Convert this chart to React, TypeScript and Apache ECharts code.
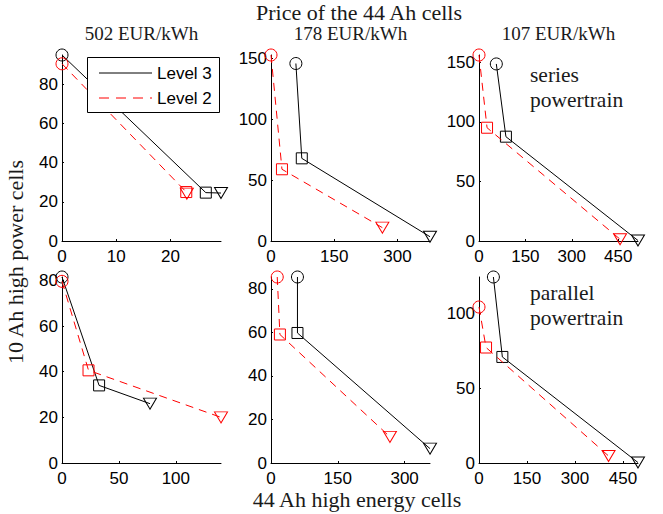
import React, { useEffect, useRef } from "react";
import * as echarts from "echarts";

// ---- Data ----
const priceLabels = ["502 EUR/kWh", "178 EUR/kWh", "107 EUR/kWh"];
const mainTitle = "Price of the 44 Ah cells";
const yAxisTitle = "10 Ah high power cells";
const xAxisTitle = "44 Ah high energy cells";
const seriesNames = ["Level 3", "Level 2"];
const rowNotes = [["series", "powertrain"], ["parallel", "powertrain"]];

// Panels: series powertrain (502, 178, 107), then parallel powertrain (502, 178, 107)
const level3Series502 = [[0, 95], [26.5, 24.7], [29.3, 24.5]];
const level2Series502 = [[0, 90.5], [22.9, 25], [23, 24.2]];
const level3Series178 = [[59, 146], [73, 68], [377, 3.5]];
const level2Series178 = [[0, 153], [26, 59], [264, 11]];
const level3Series107 = [[56, 148.5], [87, 87.5], [514, 0.4]];
const level2Series107 = [[0, 156], [26, 95], [456, 1.5]];
const level3Parallel502 = [[0, 81.5], [32.6, 34], [77.3, 26]];
const level2Parallel502 = [[0, 79.6], [23.3, 40.6], [139.7, 20]];
const level3Parallel178 = [[59.4, 85.4], [59.4, 59.7], [357, 6.6]];
const level2Parallel178 = [[14, 85.4], [20, 59], [267, 12]];
const level3Parallel107 = [[45, 124], [73, 70.7], [497, 0.3]];
const level2Parallel107 = [[0, 104], [22, 77], [405, 4.7]];

const level3Panels = [level3Series502, level3Series178, level3Series107, level3Parallel502, level3Parallel178, level3Parallel107];
const level2Panels = [level2Series502, level2Series178, level2Series107, level2Parallel502, level2Parallel178, level2Parallel107];
const xTickSteps = [10, 150, 150, 50, 150, 150];
const yTickSteps = [20, 50, 50, 20, 20, 50];

// marker per point: circle, square, down triangle
const markerShapes = ["circle", "rect", "triangle"];
const markerRotate = [0, 0, 180];
const markerSizes: any[] = [12, 11, [13, 11]];

const SERIF = "'Liberation Serif', 'Times New Roman', serif";
const SANS = "'Liberation Sans', Arial, sans-serif";

export default function App() {
  const ref = useRef<HTMLDivElement>(null);
  useEffect(() => {
    document.body.style.margin = "0";
    if (!ref.current) return;
    const chart = echarts.init(ref.current, null, { renderer: "svg" });

    const colLeft = [62, 271, 479];
    const rowTop = [55, 277];
    const gw = 159;
    const gh = 186;

    const grids: any[] = [];
    const xAxes: any[] = [];
    const yAxes: any[] = [];
    const series: any[] = [];
    for (let p = 0; p < 6; p++) {
      const r = Math.floor(p / 3);
      const c = p % 3;
      grids.push({ left: colLeft[c], top: rowTop[r], width: gw, height: gh, containLabel: false });
      const all = level3Panels[p].concat(level2Panels[p]);
      const xMax = Math.max(...all.map((d) => d[0]));
      const yMax = Math.max(...all.map((d) => d[1]));
      const axisCommon = {
        type: "value",
        min: 0,
        splitLine: { show: false },
        axisLine: { show: true, onZero: false, lineStyle: { color: "#000", width: 1 } },
        axisTick: { show: true, inside: true, length: 2, lineStyle: { color: "#000" } },
        axisLabel: { color: "#000", fontFamily: SANS, fontSize: 17, showMaxLabel: false },
      };
      xAxes.push({
        ...axisCommon,
        gridIndex: p,
        max: xMax,
        interval: xTickSteps[p],
        axisLabel: { ...axisCommon.axisLabel, margin: 7 },
      });
      yAxes.push({
        ...axisCommon,
        gridIndex: p,
        max: yMax,
        interval: yTickSteps[p],
        axisLabel: { ...axisCommon.axisLabel, margin: 4 },
      });
      const mk = (d: number[], i: number) => ({
        value: d,
        symbol: markerShapes[i],
        symbolRotate: markerRotate[i],
        symbolSize: markerSizes[i],
      });
      series.push({
        type: "line",
        name: seriesNames[0],
        xAxisIndex: p,
        yAxisIndex: p,
        data: level3Panels[p].map(mk),
        lineStyle: { color: "#000", width: 1 },
        itemStyle: { color: "rgba(0,0,0,0)", borderColor: "#000", borderWidth: 1 },
        clip: false,
        silent: true,
        z: 3,
      });
      series.push({
        type: "line",
        name: seriesNames[1],
        xAxisIndex: p,
        yAxisIndex: p,
        data: level2Panels[p].map(mk),
        lineStyle: { color: "#ff0000", width: 1, type: [8, 6] },
        itemStyle: { color: "rgba(0,0,0,0)", borderColor: "#ff0000", borderWidth: 1 },
        clip: false,
        silent: true,
        z: 4,
      });
    }

    const textFill = "#1a1a1a";
    const graphic: any[] = [
      { type: "text", x: 359, y: 12, style: { text: mainTitle, font: `22px ${SERIF}`, fill: textFill, align: "center", verticalAlign: "middle" } },
      { type: "text", x: 357, y: 499, style: { text: xAxisTitle, font: `22px ${SERIF}`, fill: textFill, align: "center", verticalAlign: "middle" } },
      { type: "text", x: 15, y: 262, rotation: Math.PI / 2, style: { text: yAxisTitle, font: `22px ${SERIF}`, fill: textFill, align: "center", verticalAlign: "middle" } },
      ...priceLabels.map((t, i) => ({
        type: "text", x: colLeft[i] + gw / 2, y: 33,
        style: { text: t, font: `19px ${SERIF}`, fill: textFill, align: "center", verticalAlign: "middle" },
      })),
      ...rowNotes.flatMap((lines, r) =>
        lines.map((t, k) => ({
          type: "text", x: 530, y: (r === 0 ? 75 : 293) + k * 25,
          style: { text: t, font: `21.5px ${SERIF}`, fill: textFill, align: "left", verticalAlign: "middle" },
        }))
      ),
      // legend
      { type: "rect", z: 100, shape: { x: 87.5, y: 57.5, width: 132, height: 55 }, style: { fill: "#fff", stroke: "#000", lineWidth: 1 } },
      { type: "line", z: 101, shape: { x1: 99, y1: 73, x2: 152, y2: 73 }, style: { stroke: "#000", lineWidth: 1 } },
      { type: "line", z: 101, shape: { x1: 99, y1: 98, x2: 152, y2: 98 }, style: { stroke: "#ff0000", lineWidth: 1, lineDash: [10, 7] } },
      { type: "text", z: 101, x: 157, y: 73, style: { text: seriesNames[0], font: `17px ${SANS}`, fill: "#000", align: "left", verticalAlign: "middle" } },
      { type: "text", z: 101, x: 157, y: 98, style: { text: seriesNames[1], font: `17px ${SANS}`, fill: "#000", align: "left", verticalAlign: "middle" } },
    ];

    chart.setOption({
      animation: false,
      backgroundColor: "#fff",
      grid: grids,
      xAxis: xAxes,
      yAxis: yAxes,
      series,
      graphic,
    });
    return () => chart.dispose();
  }, []);
  return <div ref={ref} style={{ width: 663, height: 514 }} />;
}
